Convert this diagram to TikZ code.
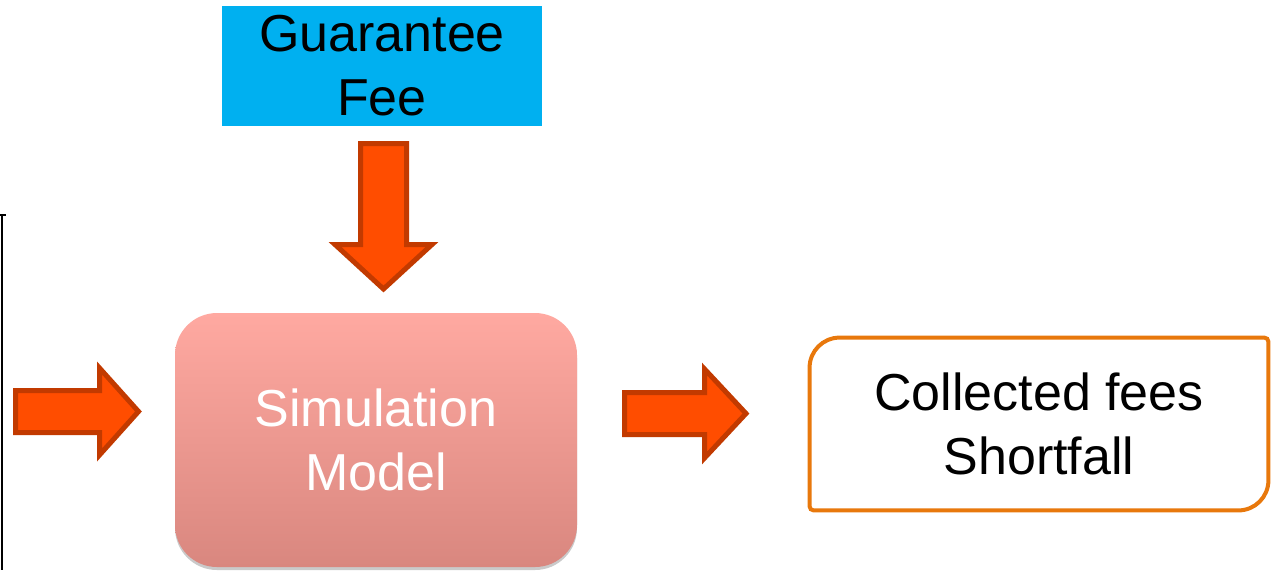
\documentclass[tikz,border=0pt]{standalone}
\usepackage{fontspec}
\setmainfont{Liberation Sans}
\usetikzlibrary{shadows,calc}
\definecolor{feeblue}{HTML}{00B0F0}
\definecolor{arrowfill}{HTML}{FF4D00}
\definecolor{arrowline}{HTML}{C23A00}
\definecolor{simtop}{HTML}{FFA9A1}
\definecolor{simbot}{HTML}{D9877F}
\definecolor{outorange}{HTML}{E8780C}
\tikzset{
  bigtext/.style={font=\fontsize{26}{32}\selectfont, align=center},
  blockarrow/.style={fill=arrowfill, draw=arrowline, line width=2.5pt, line join=miter},
  feebox/.style={bigtext, rectangle, fill=feeblue, text=black, inner sep=0pt,
    minimum width=160pt, minimum height=60pt},
  simbox/.style={bigtext, rectangle, rounded corners=21pt, top color=simtop, bottom color=simbot,
    text=white, inner sep=0pt, minimum width=201pt, minimum height=127pt,
    drop shadow={shadow xshift=0pt, shadow yshift=-1.5pt, opacity=0.35, fill=black!60}},
  outbox/.style={bigtext, rectangle, text=black, inner sep=0pt, minimum width=229pt, minimum height=86pt},
  outline/.style={draw=outorange, line width=2pt}
}
\begin{document}
\begin{tikzpicture}[x=0.5pt, y=-0.5pt]
\useasboundingbox (0,0) rectangle (1276,570);
% left edge remnant
\draw[black, line width=1pt] (2,215) -- (2,570);
\draw[black, line width=1pt] (0,215) -- (6,215);
% nodes
\node[feebox] (fee) at (382,66) {Guarantee\\Fee};
\node[simbox] (sim) at (376,440) {Simulation\\Model};
\node[outbox] (out) at (1039,424) {Collected fees\\Shortfall};
% output box outline with two large rounded corners
\draw[outline]
  ($(out.north west)+(0,30)$) arc[start angle=180, end angle=270, radius=30]
  -- ($(out.north east)+(-4,0)$) arc[start angle=270, end angle=360, radius=4]
  -- ($(out.south east)+(0,-30)$) arc[start angle=0, end angle=90, radius=30]
  -- ($(out.south west)+(4,0)$) arc[start angle=90, end angle=180, radius=4]
  -- cycle;
% block arrows
\draw[blockarrow] (15.5,390.5) -- (99.5,390.5) -- (99.5,368) -- (138.5,411.5)
  -- (99.5,455) -- (99.5,432.5) -- (15.5,432.5) -- cycle;
\draw[blockarrow] (624.5,392.5) -- (704.5,392.5) -- (704.5,369) -- (746,413.5)
  -- (704.5,458) -- (704.5,434.5) -- (624.5,434.5) -- cycle;
\draw[blockarrow] (360.5,143.5) -- (406.5,143.5) -- (406.5,244.5) -- (432,244.5)
  -- (383.5,289) -- (335,244.5) -- (360.5,244.5) -- cycle;
\end{tikzpicture}
\end{document}
